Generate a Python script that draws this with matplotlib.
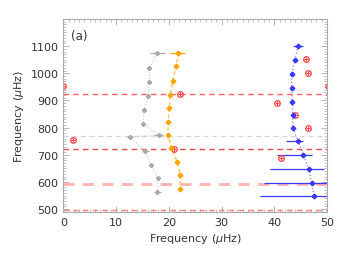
import matplotlib
matplotlib.use('Agg')
import matplotlib.pyplot as plt
from matplotlib.ticker import MultipleLocator

# gray series
gx = [17.8, 16.3, 16.3, 16.1, 15.3, 15.2, 18.1, 12.6, 15.5, 16.6, 17.9, 17.8]
gy = [1073, 1019, 969, 918, 866, 815, 772, 766, 714, 663, 615, 562]
gxl = [1.3, 0.4, 0.2, 0.2, 0.2, 0.2, 0.9, 0.6, 0.5, 0.3, 0.3, 0.6]
gxr = [1.5, 0.4, 0.2, 0.2, 0.2, 0.2, 0.8, 0.7, 0.7, 0.3, 0.3, 0.7]

# orange series
ox = [21.8, 21.4, 20.7, 20.3, 20.1, 19.9, 19.8, 20.5, 21.6, 22.2, 22.1]
oy = [1075, 1025, 972, 921, 871, 821, 774, 724, 673, 624, 574]
oxl = [1.6, 0.2, 0.2, 0.2, 0.2, 0.2, 0.2, 0.2, 0.2, 0.2, 0.2]
oxr = [1.3, 0.2, 0.2, 0.2, 0.2, 0.2, 0.2, 0.2, 0.2, 0.2, 0.2]

# blue series
bx = [44.5, 43.9, 43.3, 43.3, 43.4, 43.5, 43.5, 44.5, 45.5, 46.5, 47.1, 47.6]
by = [1100, 1047, 998, 946, 894, 845, 800, 750, 700, 649, 598, 549]
bxl = [1.0, 0.3, 0.2, 0.3, 0.2, 0.2, 0.3, 2.3, 5.0, 7.3, 9.0, 10.4]
bxr = [0.9, 0.3, 0.2, 0.3, 0.2, 0.2, 0.3, 1.0, 1.6, 3.0, 9.0, 10.4]

# red symbols
rx = [0.0, 22.1, 50.1, 46.0, 46.4, 40.5, 44.0, 46.3, 41.2, 1.9, 20.95]
ry = [953, 924, 952, 1051, 1001, 892, 845, 799, 688, 755, 723]

# horizontal reference lines
hl_y = [922, 722, 592, 497]
hl_c = ['#ff6060', '#e84848', '#ffb0b0', '#ff8080']
hl_w = [1.0, 1.0, 2.0, 1.0]
gray_line = 770

fig = plt.figure(figsize=(3.47, 2.55), dpi=100)
ax = fig.add_axes([0.1825, 0.165, 0.760, 0.757])

ax.axhline(gray_line, color='#d4d4d4', ls='--', lw=0.9, dashes=(4, 3))
for y, c, w in zip(hl_y, hl_c, hl_w):
    ax.axhline(y, color=c, ls='--', lw=w, dashes=(4, 3))

# connecting lines (lighter)
ax.plot(gx, gy, color='#c8c8c8', ls=':', lw=0.8)
ax.plot(ox, oy, color='#ffc040', ls='--', lw=0.9, dashes=(3, 2))
ax.plot(bx, by, color='#8080ff', ls=':', lw=0.9)

ax.errorbar(gx, gy, xerr=[gxl, gxr], color='#a8a8a8', ls='none',
            marker='P', ms=2.6, elinewidth=0.9, capsize=0)
ax.errorbar(ox, oy, xerr=[oxl, oxr], color='#ffa500', ls='none',
            marker='P', ms=3.0, elinewidth=0.9, capsize=0)
ax.errorbar(bx, by, xerr=[bxl, bxr], color='#3a3aff', ls='none',
            marker='P', ms=3.0, elinewidth=0.9, capsize=0)

ax.plot(rx, ry, ls='none', marker='o', ms=4.0, mfc='none', mec='#ff4040',
        mew=0.9)
ax.plot(rx, ry, ls='none', marker='+', ms=3.0, color='#ff4040', mew=0.7)

ax.set_xlim(0, 50)
ax.set_ylim(490, 1200)
ax.xaxis.set_major_locator(MultipleLocator(10))
ax.xaxis.set_minor_locator(MultipleLocator(1))
ax.yaxis.set_major_locator(MultipleLocator(100))
ax.yaxis.set_minor_locator(MultipleLocator(10))
ax.set_yticks([500, 600, 700, 800, 900, 1000, 1100])

ax.tick_params(which='both', direction='in', top=True, right=True,
               color='#aaaaaa', labelsize=8, labelcolor='#333333')
ax.tick_params(which='major', length=4, width=0.6)
ax.tick_params(which='minor', length=2, width=0.5)
for s in ax.spines.values():
    s.set_color('#aaaaaa')
    s.set_linewidth(0.8)

ax.set_xlabel('Frequency ($\\mu$Hz)', fontsize=8, color='#333333', labelpad=3)
ax.set_ylabel('Frequency ($\\mu$Hz)', fontsize=8, color='#333333', labelpad=3)
ax.text(3, 1140, '(a)', fontsize=8.5, color='#333333', ha='center', va='center')

fig.savefig('out.png', dpi=100)
